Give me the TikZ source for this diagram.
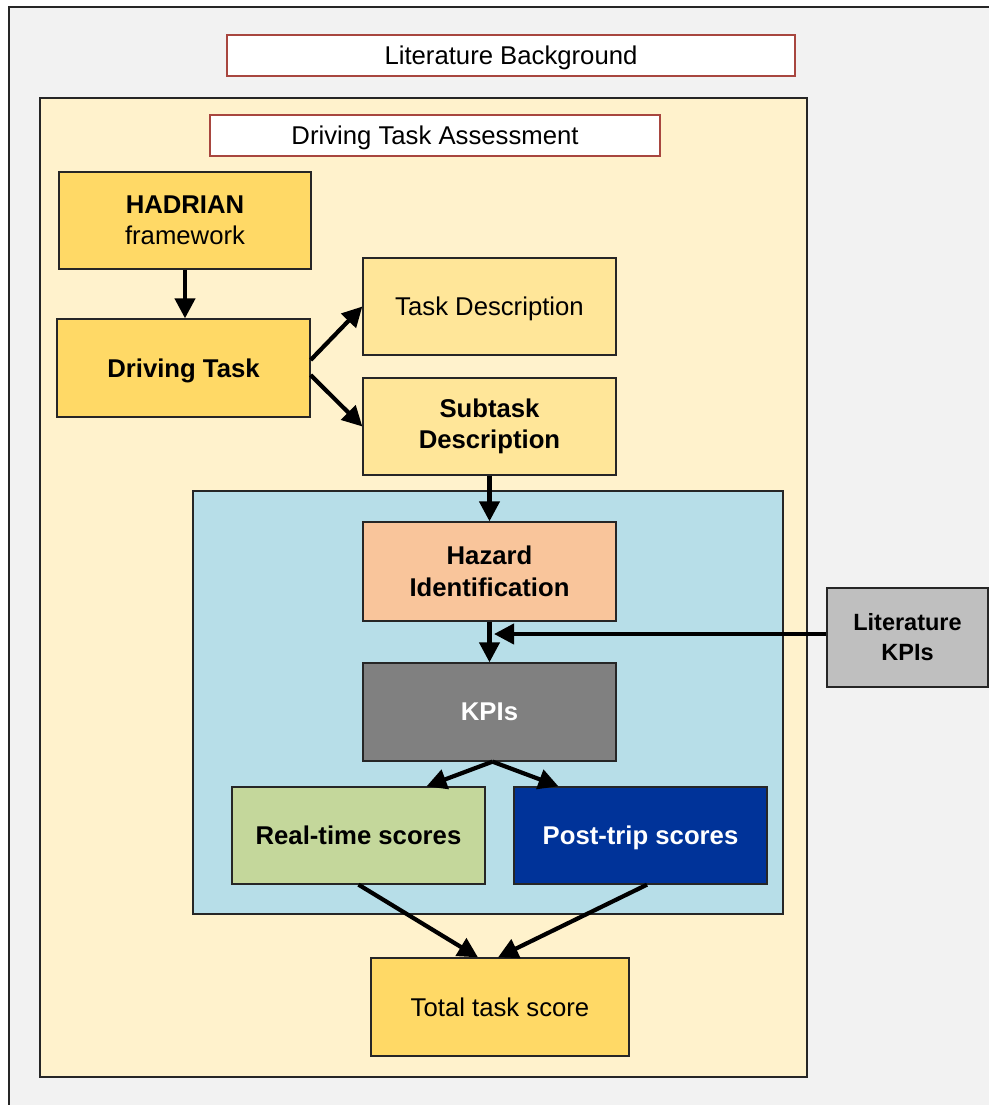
\documentclass[tikz,border=0pt]{standalone}
\usepackage{fontspec}
\setmainfont{Liberation Sans}
\usepackage{xcolor}
\usetikzlibrary{arrows.meta}

\definecolor{outerbg}{HTML}{F2F2F2}
\definecolor{titlered}{HTML}{A8463F}
\definecolor{creamyel}{HTML}{FFF2CC}
\definecolor{goldyel}{HTML}{FFD966}
\definecolor{paleyel}{HTML}{FFE699}
\definecolor{lightblue}{HTML}{B7DEE8}
\definecolor{peach}{HTML}{F9C59B}
\definecolor{midgray}{HTML}{808080}
\definecolor{sage}{HTML}{C4D79B}
\definecolor{deepblue}{HTML}{003399}
\definecolor{lightgray}{HTML}{BFBFBF}

\begin{document}
\begin{tikzpicture}[x=1pt,y=-1pt,
    box/.style={draw=black!85, line width=1.3pt, minimum width=253pt, minimum height=97pt,
        align=center, inner sep=0pt, font=\fontsize{25.7}{31.5}\selectfont},
    oneline/.style={text depth=0pt},
    titlebox/.style={draw=titlered, line width=1.5pt, fill=white, minimum height=41pt,
        inner sep=0pt, text depth=0pt, font=\fontsize{25.7}{31}\selectfont},
    arr/.style={line width=4.2pt, -{Triangle[length=20pt,width=20pt]}}]
\useasboundingbox (0,0) rectangle (989,1105);

% frames
\fill[outerbg] (9,7) rectangle (989,1105);
\draw[black!85, line width=2pt] (9,1105) -- (9,7) -- (989,7);
\node[titlebox, minimum width=568pt] (litbg) at (511,55.5) {Literature Background};
\filldraw[fill=creamyel, draw=black!85, line width=2pt] (40,98) rectangle (807,1077);
\node[titlebox, minimum width=450pt] (dta) at (435,135.5) {Driving Task Assessment};
\filldraw[fill=lightblue, draw=black!85, line width=1.3pt] (193,491) rectangle (783,914);

% boxes
\node[box, fill=goldyel, minimum width=252pt] (hadrian) at (185,220.5) {\textbf{HADRIAN}\\framework};
\node[box, oneline, fill=goldyel, minimum height=98pt] (drvtask) at (183.5,368) {\textbf{Driving Task}};
\node[box, oneline, fill=paleyel] (taskdesc) at (489.5,306.5) {Task Description};
\node[box, fill=paleyel] (subtask) at (489.5,426.5) {\textbf{Subtask}\\\textbf{Description}};
\node[box, fill=peach, minimum height=99pt] (hazard) at (489.5,571.5) {\textbf{Hazard}\\\textbf{Identification}};
\node[box, oneline, fill=midgray, minimum height=98pt, text=white] (kpis) at (489.5,712) {\textbf{KPIs}};
\node[box, oneline, fill=sage] (realtime) at (358.5,835.5) {\textbf{Real-time scores}};
\node[box, oneline, fill=deepblue, text=white] (posttrip) at (640.5,835.5) {\textbf{Post-trip scores}};
\node[box, oneline, fill=goldyel, minimum width=258pt, minimum height=98pt] (total) at (500,1007) {Total task score};
\node[box, fill=lightgray, minimum width=161pt, minimum height=99pt,
    font=\fontsize{23.5}{30}\selectfont] (litkpi) at (907.5,637.5) {\textbf{Literature}\\\textbf{KPIs}};
\coordinate (littip) at (494,634);

% arrows
\draw[arr] (hadrian.south) -- (hadrian.south |- drvtask.north);
\draw[arr] ([yshift=8pt]drvtask.east) -- (taskdesc.west);
\draw[arr] ([yshift=-7pt]drvtask.east) -- (subtask.west);
\draw[arr] (subtask.south) -- (hazard.north);
\draw[arr] (hazard.south) -- (kpis.north);
\draw[arr] ([yshift=3.5pt]litkpi.west) -- (littip);
\draw[arr] ([xshift=3pt]kpis.south) -- ([xshift=68pt]realtime.north);
\draw[arr] ([xshift=3pt]kpis.south) -- ([xshift=-82pt]posttrip.north);
\draw[arr] (realtime.south) -- ([xshift=-22pt]total.north);
\draw[arr] ([xshift=6.5pt]posttrip.south) -- ([xshift=-2pt]total.north);
\end{tikzpicture}
\end{document}
